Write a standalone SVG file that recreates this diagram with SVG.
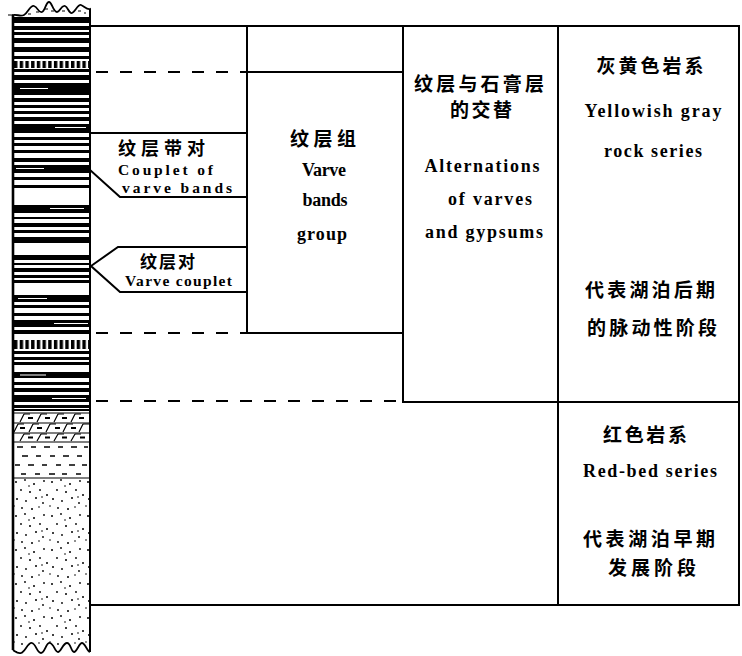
<svg xmlns="http://www.w3.org/2000/svg" width="742" height="656" viewBox="0 0 742 656">
  <style>
    .ln { stroke: #000; stroke-width: 2; fill: none; stroke-linecap: square; }
    .thin { stroke: #000; stroke-width: 1.2; fill: none; }
    .dash { stroke-dasharray: 12 12; stroke-linecap: butt; }
    .zh { font-family: "Noto Sans CJK SC", "Noto Sans", sans-serif; font-weight: bold; font-size: 19px; fill: #000; }
    .en { font-family: "Liberation Serif", "DejaVu Serif", serif; font-weight: bold; font-size: 18px; fill: #000; }
    .mid { text-anchor: middle; }
    .blk rect { fill: #000; }
  </style>
  <defs>
    <!-- vertical tick band (gypsum layers) -->
    <pattern id="tick" patternUnits="userSpaceOnUse" x="14" y="0" width="5.7" height="1000">
      <rect x="0" y="0" width="3.4" height="1000" fill="#000"/>
    </pattern>
    <!-- sandstone dots -->
    <pattern id="sand" patternUnits="userSpaceOnUse" x="13" y="478" width="36" height="34">
      <circle cx="3" cy="4" r="1"/>
      <circle cx="12" cy="2" r="0.9"/>
      <circle cx="21" cy="6" r="1"/>
      <circle cx="31" cy="3" r="0.9"/>
      <circle cx="8" cy="12" r="0.9"/>
      <circle cx="17" cy="14" r="1"/>
      <circle cx="27" cy="12" r="0.9"/>
      <circle cx="34" cy="17" r="1"/>
      <circle cx="4" cy="21" r="1"/>
      <circle cx="13" cy="23" r="0.9"/>
      <circle cx="23" cy="20" r="1"/>
      <circle cx="30" cy="25" r="0.9"/>
      <circle cx="9" cy="30" r="0.9"/>
      <circle cx="19" cy="31" r="1"/>
      <circle cx="26" cy="29" r="0.8"/>
      <circle cx="1" cy="28" r="0.8"/>
      <circle cx="16" cy="8" r="0.8"/>
      <circle cx="29" cy="19" r="0.8"/>
    </pattern>
    <clipPath id="colClip">
      <path d="M13,18 L90,18 L90,652 C87,651 85,643 82,643 C79,643 77,652 74,652 C71,652 71,643 67,643 C63,643 61,652 58,652 C55,652 54,644 50,643 C46,642 45,653 41,653 C37,653 36,644 32,643 C28,642 25,652 21,653 C18,654 16,652 13,650 Z"/>
    </clipPath>
  </defs>

  <rect width="742" height="656" fill="#fff"/>

  <!-- stratigraphic column -->
  <g id="column">
    <!-- weathered top surface -->
    <path d="M13,18 L13,15 C17,14 20,17 24,15 C28,13 30,5 34,6 C38,7 38,13 42,12 C45,11 46,2 49,2 C52,2 53,12 57,12 C60,12 61,5 65,6 C68,7 69,14 72,13 C75,12 78,4 81,5 C84,6 87,10 90,9 L90,18 Z" fill="#fff" stroke="#000" stroke-width="1.8"/>
    <path class="thin" d="M8,15 L13,15 M36,12 L39,12 M45,9 L48,9 M51,11 L54,11 M62,11 L65,11 M78,11 L81,11 M84,13 L86,13 M28,14 L31,14"/>

    <g clip-path="url(#colClip)">
      <!-- laminated (varved) beds -->
      <g class="blk">
        <rect x="13" y="18" width="77" height="5"/>
        <rect x="13" y="26" width="77" height="4"/>
        <rect x="13" y="32" width="77" height="3"/>
        <rect x="13" y="38" width="77" height="5"/>
        <rect x="13" y="47" width="77" height="5"/>
        <rect x="13" y="56" width="77" height="3"/>
        <rect x="13" y="69" width="77" height="3"/>
        <rect x="13" y="75" width="77" height="5"/>
        <rect x="13" y="83" width="77" height="12"/>
        <rect x="13" y="98" width="77" height="4"/>
        <rect x="13" y="105" width="77" height="3"/>
        <rect x="13" y="111" width="77" height="3"/>
        <rect x="13" y="117" width="77" height="4"/>
        <rect x="13" y="124" width="77" height="9"/>
        <rect x="13" y="137" width="77" height="3"/>
        <rect x="13" y="143" width="77" height="3"/>
        <rect x="13" y="150" width="77" height="3"/>
        <rect x="13" y="158" width="77" height="4"/>
        <rect x="13" y="165" width="77" height="8"/>
        <rect x="13" y="177" width="77" height="3"/>
        <rect x="13" y="185" width="77" height="3"/>
        <rect x="13" y="205" width="77" height="8"/>
        <rect x="13" y="217" width="77" height="2"/>
        <rect x="13" y="223" width="77" height="4"/>
        <rect x="13" y="230" width="77" height="3"/>
        <rect x="13" y="237" width="77" height="6"/>
        <rect x="13" y="255" width="77" height="5"/>
        <rect x="13" y="263" width="77" height="2"/>
        <rect x="13" y="268" width="77" height="4"/>
        <rect x="13" y="275" width="77" height="3"/>
        <rect x="13" y="280" width="77" height="3"/>
        <rect x="13" y="295" width="77" height="7"/>
        <rect x="13" y="305" width="77" height="3"/>
        <rect x="13" y="313" width="77" height="3"/>
        <rect x="13" y="320" width="77" height="7"/>
        <rect x="13" y="330" width="77" height="4"/>
        <rect x="13" y="351" width="77" height="3"/>
        <rect x="13" y="357" width="77" height="3"/>
        <rect x="13" y="362" width="77" height="3"/>
        <rect x="13" y="372" width="77" height="6"/>
        <rect x="13" y="382" width="77" height="3"/>
        <rect x="13" y="388" width="77" height="4"/>
        <rect x="13" y="395" width="77" height="7"/>
        <rect x="13" y="405" width="77" height="3"/>
        <rect x="13" y="409" width="77" height="2"/>
      </g>
      <!-- thin light streaks inside the dark beds -->
      <path d="M20,88.5 L48,88.5 M55,127.5 L86,127.5 M16,168.5 L44,168.5 M50,208.5 L84,208.5 M18,298.5 L47,298.5 M54,323.5 L88,323.5 M20,375 L46,375 M52,398.5 L86,398.5" stroke="#fff" stroke-width="1"/>

      <!-- gypsum tick bands -->
      <rect x="13" y="61" width="77" height="7" fill="url(#tick)"/>
      <rect x="13" y="340" width="77" height="9" fill="url(#tick)"/>

      <!-- marl / dolomite rows -->
      <path class="thin" d="M13,413 L90,413 M13,423 L90,423 M13,433 L90,433 M13,442 L90,442"/>
      <path class="thin" d="M20,422 L24,414 M24,414 L30,414 M37,422 L41,414 M41,414 L47,414 M54,422 L58,414 M58,414 L64,414 M71,422 L75,414 M75,414 L81,414
                            M14,432 L18,424 M18,424 L24,424 M29,432 L33,424 M33,424 L39,424 M46,432 L50,424 M50,424 L56,424 M63,432 L67,424 M67,424 L73,424 M79,432 L83,424 M83,424 L89,424
                            M20,441 L24,434 M24,434 L30,434 M37,441 L41,434 M41,434 L47,434 M54,441 L58,434 M58,434 L64,434 M71,441 L75,434 M75,434 L81,434"/>
      <path d="M28,418 L33,418 M45,418 L50,418 M62,418 L67,418 M79,418 L84,418 M20,428 L25,428 M37,428 L42,428 M55,428 L60,428 M71,428 L76,428 M28,437.5 L33,437.5 M45,437.5 L50,437.5 M62,437.5 L67,437.5 M80,437.5 L85,437.5" stroke="#000" stroke-width="2"/>

      <!-- shale dashes -->
      <path d="M17,447 L23,447 M31,447 L36,447 M44,447 L50,447 M58,447 L63,447 M71,447 L77,447 M84,447 L88,447
               M22,456 L28,456 M36,456 L41,456 M50,456 L55,456 M63,456 L69,456 M77,456 L82,456
               M15,465 L20,465 M28,465 L34,465 M42,465 L47,465 M56,465 L61,465 M69,465 L75,465 M82,465 L87,465
               M21,474 L26,474 M35,474 L40,474 M49,474 L55,474 M62,474 L67,474 M76,474 L81,474" stroke="#000" stroke-width="1.4"/>
      <path class="thin" d="M13,478 L90,478"/>

      <!-- sandstone -->
      <rect x="13" y="479" width="77" height="176" fill="url(#sand)"/>
    </g>

    <!-- column walls and eroded base -->
    <path d="M13,15 L13,650" stroke="#000" stroke-width="2.6" fill="none"/>
    <path d="M90,9 L90,652" stroke="#000" stroke-width="2" fill="none"/>
    <path d="M13,650 C16,652 18,654 21,653 C25,652 28,642 32,643 C36,644 37,653 41,653 C45,653 46,642 50,643 C54,644 55,652 58,652 C61,652 63,643 67,643 C71,643 71,652 74,652 C77,652 79,643 82,643 C85,643 87,651 90,652" stroke="#000" stroke-width="1.8" fill="none"/>
  </g>

  <!-- frame, divisions and label leaders -->
  <g id="connectors">
    <path class="ln" d="M90,26 L739,26 L739,605 L90,605"/>
    <path class="ln" d="M247,26 L247,333 M403,26 L403,402 M558,26 L558,605"/>
    <path class="ln" d="M247,72 L403,72 M247,333 L403,333 M403,402 L739,402"/>
    <path class="ln dash" d="M96,72 L247,72 M96,333 L247,333 M96,401 L403,401"/>
    <!-- couplet of varve bands leader -->
    <path class="ln" d="M90,133 L247,133 M90,170 L120,197 L247,197"/>
    <!-- varve couplet leader -->
    <path class="ln" d="M247,247 L118,247 L91,266 L120,292 L247,292"/>
  </g>

  <g id="label-couplet-bands">
    <text class="zh" x="118" y="155" textLength="87" style="font-size:18px">纹层带对</text>
    <text class="en" x="118" y="175" textLength="95" style="font-size:15.5px">Couplet of</text>
    <text class="en" x="122" y="193" textLength="110" style="font-size:15.5px">varve bands</text>
  </g>

  <g id="label-varve-couplet">
    <text class="zh" x="140" y="268" textLength="55" style="font-size:17px">纹层对</text>
    <text class="en" x="125" y="286" textLength="107" style="font-size:15.5px">Varve couplet</text>
  </g>

  <g id="node-varve-bands-group">
    <text class="zh mid" x="323" y="146" textLength="66">纹层组</text>
    <text class="en mid" x="324" y="176" textLength="44">Varve</text>
    <text class="en mid" x="325" y="206" textLength="45">bands</text>
    <text class="en mid" x="322" y="240" textLength="50">group</text>
  </g>

  <g id="node-alternations">
    <text class="zh mid" x="479" y="91" textLength="130">纹层与石膏层</text>
    <text class="zh mid" x="481" y="117" textLength="62">的交替</text>
    <text class="en mid" x="482" y="172" textLength="115">Alternations</text>
    <text class="en mid" x="490" y="205" textLength="84">of varves</text>
    <text class="en mid" x="484" y="238" textLength="118">and gypsums</text>
  </g>

  <g id="node-yellowish-gray">
    <text class="zh mid" x="650" y="73" textLength="107">灰黄色岩系</text>
    <text class="en mid" x="653" y="117" textLength="137">Yellowish gray</text>
    <text class="en mid" x="653" y="157" textLength="98">rock series</text>
    <text class="zh mid" x="650" y="297" textLength="130">代表湖泊后期</text>
    <text class="zh mid" x="652" y="335" textLength="130">的脉动性阶段</text>
  </g>

  <g id="node-red-bed">
    <text class="zh mid" x="645" y="442" textLength="84">红色岩系</text>
    <text class="en mid" x="650" y="477" textLength="134">Red-bed series</text>
    <text class="zh mid" x="649" y="546" textLength="132">代表湖泊早期</text>
    <text class="zh mid" x="652" y="575" textLength="88">发展阶段</text>
  </g>
</svg>
